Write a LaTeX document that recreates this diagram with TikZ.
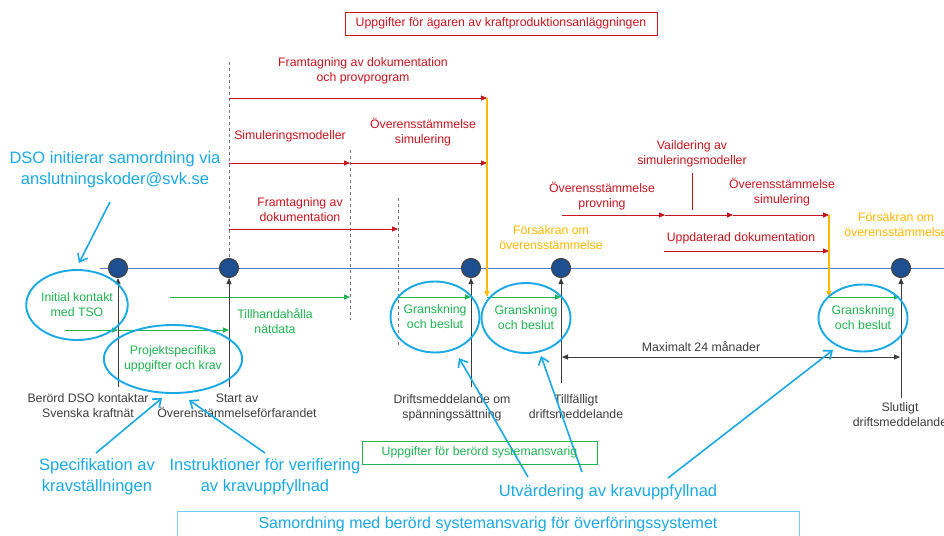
\documentclass[tikz,border=0pt]{standalone}
\usepackage{fontspec}
\setmainfont{Liberation Sans}
\usetikzlibrary{arrows.meta,shapes.geometric}
\definecolor{cred}{RGB}{200,20,30}
\definecolor{cgreen}{RGB}{30,180,80}
\definecolor{corange}{RGB}{255,185,0}
\definecolor{ccyan}{RGB}{25,170,230}
\definecolor{cbox}{RGB}{120,205,245}
\definecolor{cline}{RGB}{80,125,195}
\definecolor{cdot}{RGB}{30,80,145}
\definecolor{cgray}{RGB}{60,60,60}
\tikzset{
  lbl/.style={font=\fontsize{12.3}{15}\selectfont, align=center, inner sep=0pt},
  redlbl/.style={lbl, text=cred},
  greenlbl/.style={lbl, text=cgreen},
  orangelbl/.style={lbl, text=corange},
  blacklbl/.style={lbl, text=cgray},
  biglbl/.style={font=\fontsize{16.5}{21}\selectfont, text=ccyan, align=center, inner sep=0pt},
  redarrow/.style={draw=cred, line width=1pt, -{Triangle[length=6pt,width=5pt]}},
  greenarrow/.style={draw=cgreen, line width=1pt, -{Triangle[length=6pt,width=5pt]}},
  orangearrow/.style={draw=corange, line width=1.3pt, -{Triangle[length=6pt,width=5pt]}},
  uparrow/.style={draw=cgray, line width=0.9pt, -{Triangle[length=6pt,width=5pt]}},
  dimarrow/.style={draw=cgray, line width=0.9pt, {Triangle[length=6pt,width=5pt]}-{Triangle[length=6pt,width=5pt]}},
  dashline/.style={draw=gray!90!black, line width=0.9pt, dash pattern=on 3pt off 3pt},
  callout/.style={draw=ccyan, line width=1.6pt, -{Straight Barb[length=7pt,width=11pt]}},
  ell/.style={ellipse, draw=ccyan, line width=1.9pt, inner sep=0pt, font=\fontsize{12.3}{15}\selectfont, text=cgreen, align=center},
  dot/.style={circle, fill=cdot, draw=black!75, line width=1.1pt, minimum size=19pt, inner sep=0pt},
}
\begin{document}
\begin{tikzpicture}[x=1pt,y=-1pt]
\useasboundingbox (0,0) rectangle (944,535);
\fill[white] (0,0) rectangle (944,535);

% ---- coordinates ----
\coordinate (dA1) at (229,62);  \coordinate (dA2) at (229,268);
\coordinate (dB1) at (350,150); \coordinate (dB2) at (350,320);
\coordinate (dC1) at (398,198); \coordinate (dC2) at (398,345);
\coordinate (tl0) at (100,268); \coordinate (tl1) at (944,268);

% dashed guide lines
\draw[dashline] (dA1) -- (dA2);
\draw[dashline] (dB1) -- (dB2);
\draw[dashline] (dC1) -- (dC2);

% timeline
\draw[cline, line width=1pt] (tl0) -- (tl1);

% ---- red tasks ----
\node[draw=cred, line width=0.9pt, minimum width=312pt, minimum height=23pt, inner sep=0pt,
      font=\fontsize{12.3}{15}\selectfont, text=cred] (topbox) at (501,23.5)
      {Uppgifter för ägaren av kraftproduktionsanläggningen};

\coordinate (r1a) at (229,98);  \coordinate (r1b) at (487,98);
\coordinate (r2a) at (229,163); \coordinate (r2b) at (350,163); \coordinate (r2c) at (487,163);
\coordinate (r3a) at (229,229); \coordinate (r3b) at (398,229);
\coordinate (r4a) at (562,215); \coordinate (r4b) at (665,215); \coordinate (r4c) at (733,215); \coordinate (r4d) at (829,215);
\coordinate (r5a) at (664,251); \coordinate (r5b) at (829,251);
\coordinate (v1) at (692,173); \coordinate (v2) at (692,210);

\draw[redarrow] (r1a) -- (r1b);
\draw[redarrow] (r2a) -- (r2b);
\draw[redarrow] (r2b) -- (r2c);
\draw[redarrow] (r3a) -- (r3b);
\draw[redarrow] (r4a) -- (r4b);
\draw[redarrow] (r4b) -- (r4c);
\draw[redarrow] (r4c) -- (r4d);
\draw[redarrow] (r5a) -- (r5b);
\draw[draw=cred, line width=1pt] (v1) -- (v2);

\node[redlbl] (l1) at (363,71) {Framtagning av dokumentation\\och provprogram};
\node[redlbl] (l2) at (290,136) {Simuleringsmodeller};
\node[redlbl] (l3) at (423,132) {Överensstämmelse\\simulering};
\node[redlbl] (l4) at (300,210) {Framtagning av\\dokumentation};
\node[redlbl] (l5) at (602,196) {Överensstämmelse\\provning};
\node[redlbl] (l6) at (692,154) {Vaildering av\\simuleringsmodeller};
\node[redlbl] (l7) at (782,192) {Överensstämmelse\\simulering};
\node[redlbl] (l8) at (741,238) {Uppdaterad dokumentation};

% ---- orange ----
\coordinate (o1b) at (487,297);
\coordinate (o2b) at (829,297);
\draw[orangearrow] (r1b) -- (o1b);
\draw[orangearrow] (r4d) -- (o2b);
\node[orangelbl] (f1) at (551,238) {Försäkran om\\överensstämmelse};
\node[orangelbl] (f2) at (896,225) {Försäkran om\\överensstämmelse};

% ---- green tasks ----
\coordinate (g1a) at (170,297); \coordinate (g1b) at (350,297);
\coordinate (g2a) at (398,297); \coordinate (g2b) at (471,297);
\coordinate (g3b) at (561,297);
\coordinate (g4b) at (900,297);
\coordinate (g5a) at (65,330); \coordinate (g5b) at (118,330); \coordinate (g5c) at (229,330);
\draw[greenarrow] (g1a) -- (g1b);
\draw[greenarrow] (g2a) -- (g2b);
\draw[greenarrow] (o1b) -- (g3b);
\draw[greenarrow] (o2b) -- (g4b);
\draw[greenarrow] (g5a) -- (g5b);
\draw[greenarrow] (g5b) -- (g5c);
\node[greenlbl] (tn) at (275,321) {Tillhandahålla\\nätdata};

% ---- milestones ----
\node[dot] (d1) at (118,268) {};
\node[dot] (d2) at (229,268) {};
\node[dot] (d3) at (471,268) {};
\node[dot] (d4) at (561,268) {};
\node[dot] (d5) at (901,268) {};

\coordinate (u1) at (118,387);
\coordinate (u2) at (229,387);
\coordinate (u3) at (471,387);
\coordinate (u4) at (561,383);
\coordinate (u5) at (901,398);
\draw[uparrow] (u1) -- (d1.south);
\draw[uparrow] (u2) -- (d2.south);
\draw[uparrow] (u3) -- (d3.south);
\draw[uparrow] (u4) -- (d4.south);
\draw[uparrow] (u5) -- (d5.south);

\node[blacklbl] (m1) at (88,405.5) {Berörd DSO kontaktar\\Svenska kraftnät};
\node[blacklbl] (m2) at (237,405.5) {Start av\\Överenstämmelseförfarandet};
\node[blacklbl] (m3) at (452,408) {Driftsmeddelande om\\spänningssättning};
\node[blacklbl] (m4) at (576,407) {Tillfälligt\\driftsmeddelande};
\node[blacklbl] (m5) at (900,415) {Slutligt\\driftsmeddelande};

% 24 months
\coordinate (mx1) at (562,357); \coordinate (mx2) at (900,357);
\draw[dimarrow] (mx1) -- (mx2);
\node[blacklbl] (mx) at (701,347) {Maximalt 24 månader};

% ---- ellipses ----
\node[ell, minimum width=88pt, minimum height=70pt] (e1) at (77,305) {Initial kontakt\\med TSO};
\node[ell, minimum width=116pt, minimum height=68pt] (e2) at (173,359) {Projektspecifika\\uppgifter och krav};
\node[ell, minimum width=88pt, minimum height=71pt] (e3) at (435,317) {Granskning\\och beslut};
\node[ell, minimum width=88pt, minimum height=70pt] (e4) at (526,318) {Granskning\\och beslut};
\node[ell, minimum width=89pt, minimum height=67pt] (e5) at (863,318) {Granskning\\och beslut};

% ---- blue callouts ----
\node[biglbl] (t1) at (115,170) {DSO initierar samordning via\\anslutningskoder@svk.se};
\node[biglbl] (t2) at (97,477) {Specifikation av\\kravställningen};
\node[biglbl] (t3) at (265,477) {Instruktioner för verifiering\\av kravuppfyllnad};
\node[biglbl] (t4) at (608,492) {Utvärdering av kravuppfyllnad};

\coordinate (c1a) at (110,202); \coordinate (c1b) at (79,263);
\coordinate (c2a) at (96,453);  \coordinate (c2b) at (162,398);
\coordinate (c3a) at (265,453); \coordinate (c3b) at (189,400);
\coordinate (c4a) at (528,477); \coordinate (c4b) at (459,358);
\coordinate (c5a) at (582,472); \coordinate (c5b) at (541,356);
\coordinate (c6a) at (668,478); \coordinate (c6b) at (833,350);
\draw[callout] (c1a) -- (c1b);
\draw[callout] (c2a) -- (c2b);
\draw[callout] (c3a) -- (c3b);
\draw[callout] (c4a) -- (c4b);
\draw[callout] (c5a) -- (c5b);
\draw[callout] (c6a) -- (c6b);

% ---- bottom boxes ----
\node[draw=cgreen, line width=0.9pt, minimum width=235pt, minimum height=23pt, inner sep=0pt,
      font=\fontsize{12.3}{15}\selectfont, text=cgreen] (gbox) at (479.5,452.5)
      {Uppgifter för berörd systemansvarig};
\draw[cbox, line width=1pt] (177,545) -- (177,511) -- (799,511) -- (799,545);
\node[biglbl, font=\fontsize{16}{20}\selectfont] (bb) at (488,524)
      {Samordning med berörd systemansvarig för överföringssystemet};
\end{tikzpicture}
\end{document}
